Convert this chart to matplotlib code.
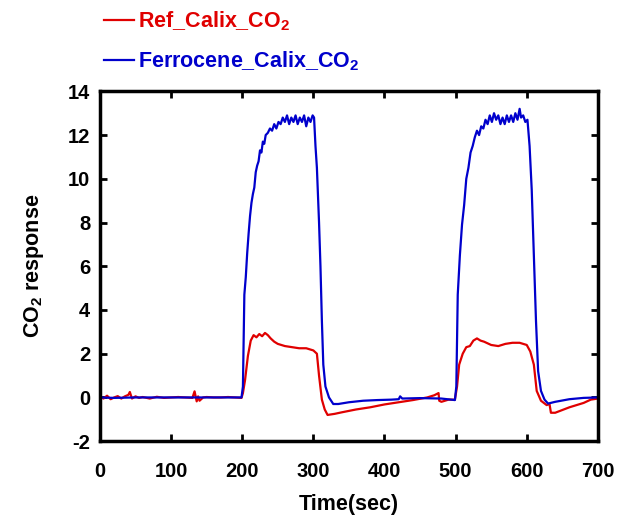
#!/usr/bin/env python3
"""CO2 response of Ref_Calix vs Ferrocene_Calix over two gas cycles."""
import matplotlib
matplotlib.use("Agg")
import matplotlib.pyplot as plt

# values (time in s, response)
ref_t = [0, 5, 10, 15, 20, 25, 30, 35, 40, 42, 45, 50, 55, 60, 70, 80, 90, 100, 110, 120,
         130, 133, 136, 138, 140, 145, 150, 160, 170, 180, 190, 199, 201, 204, 208, 212, 216,
         220, 224, 228, 232, 236, 240, 245, 250, 260, 270, 280, 290, 300, 305, 308, 312, 316,
         320, 330, 340, 360, 380, 400, 420, 440, 460, 470, 476, 477, 480, 490, 499, 502, 505,
         510, 515, 520, 525, 530, 535, 540, 550, 560, 570, 580, 590, 600, 605, 610, 614, 620,
         628, 632, 634, 640, 660, 680, 690, 700]
ref_y = [0.05, -0.05, 0.08, -0.08, 0.0, 0.06, -0.05, 0.05, 0.12, 0.25, -0.05, 0.05, -0.02,
         0.02, -0.05, 0.03, -0.02, 0.0, 0.02, 0.0, -0.02, 0.28, -0.18, 0.05, -0.15, 0.0, 0.02,
         0.0, 0.0, 0.02, 0.0, -0.02, 0.2, 0.8, 1.9, 2.6, 2.85, 2.75, 2.9, 2.8, 2.95, 2.85, 2.7,
         2.55, 2.45, 2.35, 2.3, 2.25, 2.25, 2.15, 2.0, 1.0, -0.1, -0.55, -0.8, -0.75, -0.68,
         -0.55, -0.45, -0.32, -0.22, -0.12, 0.0, 0.1, 0.2, -0.15, -0.2, -0.1, -0.1, 0.5, 1.5,
         2.0, 2.3, 2.35, 2.6, 2.7, 2.6, 2.55, 2.4, 2.35, 2.45, 2.5, 2.5, 2.4, 2.1, 1.5, 0.3,
         -0.15, -0.35, -0.3, -0.7, -0.7, -0.45, -0.25, -0.1, -0.05]

fc_t = [0, 20, 50, 100, 150, 199, 201, 203, 205, 207, 209, 211, 213, 215, 217, 219, 221, 223,
        225, 227, 229, 231, 233, 236, 239, 242, 245, 248, 251, 254, 257, 260, 263, 266, 269,
        272, 275, 278, 281, 284, 287, 290, 293, 296, 299, 301, 303, 305, 308, 310, 312, 314,
        317, 322, 328, 335, 350, 370, 390, 410, 420, 422, 425, 450, 480, 499, 501, 503, 506,
        509, 512, 515, 518, 521, 524, 527, 530, 533, 536, 539, 542, 545, 548, 551, 554, 557,
        560, 563, 566, 569, 572, 575, 578, 581, 584, 587, 590, 592, 595, 598, 601, 604, 607,
        610, 613, 616, 620, 625, 630, 640, 660, 680, 700]
fc_y = [0.0, -0.02, 0.0, 0.0, 0.0, 0.0, 0.5, 4.7, 5.5, 6.6, 7.5, 8.3, 8.9, 9.3, 9.6, 10.3,
        10.6, 10.8, 11.3, 11.2, 11.7, 11.6, 12.0, 12.1, 12.3, 12.2, 12.5, 12.3, 12.6, 12.5,
        12.8, 12.6, 12.9, 12.5, 12.8, 12.6, 12.9, 12.5, 12.8, 12.6, 12.9, 12.4, 12.8, 12.6,
        12.9, 12.8, 11.5, 10.5, 8.0, 6.0, 3.5, 1.5, 0.5, 0.0, -0.3, -0.3, -0.22, -0.15, -0.12,
        -0.1, -0.08, 0.05, -0.05, -0.03, -0.05, -0.12, 0.5, 4.7, 6.5, 7.9, 8.8, 10.0, 10.5,
        11.2, 11.5, 11.9, 12.2, 12.0, 12.4, 12.3, 12.7, 12.5, 12.9, 12.6, 13.0, 12.7, 12.9,
        12.5, 12.8, 12.5, 12.9, 12.6, 12.9, 12.6, 13.0, 12.7, 13.2, 12.8, 12.9, 12.6, 12.7,
        11.5, 9.5, 6.5, 3.5, 1.2, 0.3, -0.1, -0.28, -0.2, -0.08, -0.02, 0.0]

x_ticks = [0, 100, 200, 300, 400, 500, 600, 700]
y_ticks = [-2, 0, 2, 4, 6, 8, 10, 12, 14]

plt.rcParams["font.family"] = ["Liberation Sans", "DejaVu Sans"]
plt.rcParams["font.weight"] = "bold"
plt.rcParams["axes.unicode_minus"] = False
plt.rcParams["mathtext.fontset"] = "custom"
plt.rcParams["mathtext.rm"] = "Liberation Sans:bold"
plt.rcParams["mathtext.it"] = "Liberation Sans:bold"
plt.rcParams["mathtext.bf"] = "Liberation Sans:bold"

RED = "#e00000"
BLUE = "#0000cc"

fig = plt.figure(figsize=(6.17, 5.16), dpi=100)
ax = fig.add_axes([0.162, 0.145, 0.807, 0.678])

ax.plot(ref_t, ref_y, color=RED, lw=1.6, label="Ref_Calix_CO$_2$")
ax.plot(fc_t, fc_y, color=BLUE, lw=1.6, label="Ferrocene_Calix_CO$_2$")

ax.set_xlim(0, 700)
ax.set_ylim(-2, 14)
ax.set_xticks(x_ticks)
ax.set_yticks(y_ticks)
ax.tick_params(direction="in", top=True, right=True, length=5, width=2, labelsize=14.5)
ax.tick_params(axis="x", pad=15)
ax.tick_params(axis="y", pad=7)
for lab in ax.get_xticklabels() + ax.get_yticklabels():
    lab.set_fontweight("bold")
for sp in ax.spines.values():
    sp.set_linewidth(2.5)

ax.set_xlabel("Time(sec)", fontsize=15.5, fontweight="bold", labelpad=9)
ax.set_ylabel("CO$_2$ response", fontsize=15.5, fontweight="bold", labelpad=16)

leg = ax.legend(loc="lower left", bbox_to_anchor=(-0.018, 1.015), frameon=False,
                fontsize=15.5, handlelength=1.4, handletextpad=0.2, labelspacing=0.78,
                borderaxespad=0.2)
for txt, c in zip(leg.get_texts(), [RED, BLUE]):
    txt.set_color(c)

fig.savefig("out.png", dpi=100)
plt.close(fig)
